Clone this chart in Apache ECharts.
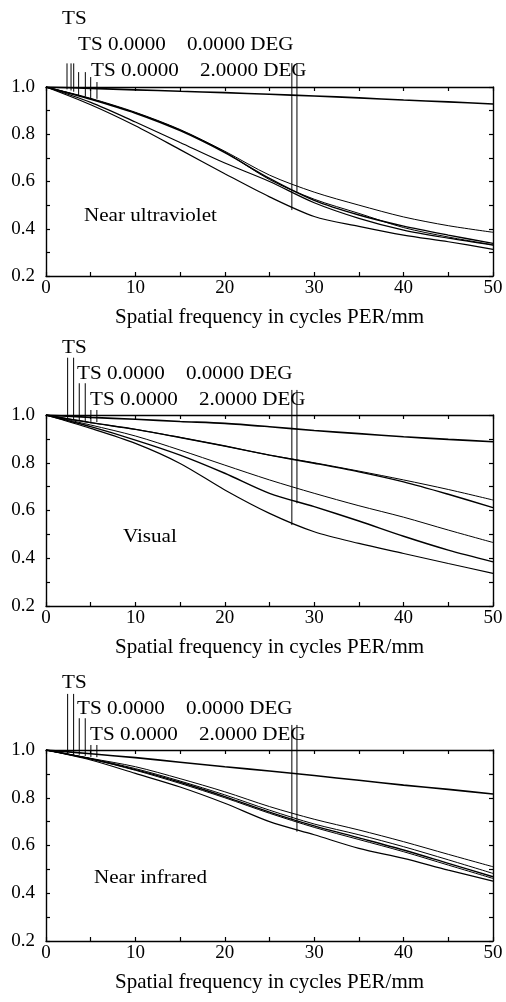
<!DOCTYPE html>
<html>
<head>
<meta charset="utf-8">
<script src="https://cdn.jsdelivr.net/npm/echarts@6/dist/echarts.min.js"></script>
<style>
  html, body { margin: 0; padding: 0; background: #fff; }
  #chart { width: 506px; height: 1002px; }
</style>
</head>
<body>
<div id="chart"></div>
<script>
// MTF curves, three wavebands.
const FREQ = [0, 5, 10, 15, 20, 25, 30, 35, 40, 45, 50];

// Near ultraviolet
const UV_DIFF = [1, 0.994, 0.988, 0.982, 0.976, 0.969, 0.962, 0.954, 0.945, 0.937, 0.928];
const UV_B    = [1, 0.952, 0.893, 0.820, 0.728, 0.627, 0.555, 0.500, 0.450, 0.413, 0.385];
const UV_C    = [1, 0.948, 0.889, 0.815, 0.722, 0.613, 0.520, 0.458, 0.411, 0.373, 0.338];
const UV_C2   = [1, 0.950, 0.891, 0.818, 0.725, 0.608, 0.525, 0.465, 0.405, 0.365, 0.332];
const UV_D    = [1, 0.935, 0.852, 0.765, 0.678, 0.600, 0.510, 0.444, 0.394, 0.360, 0.331];
const UV_E    = [1, 0.925, 0.836, 0.735, 0.633, 0.535, 0.452, 0.410, 0.373, 0.345, 0.313];

// Visual
const VIS_DIFF = [1, 0.990, 0.982, 0.973, 0.965, 0.951, 0.935, 0.922, 0.909, 0.898, 0.888];
const VIS_B    = [1, 0.968, 0.940, 0.906, 0.870, 0.832, 0.800, 0.765, 0.728, 0.688, 0.644];
const VIS_C    = [1, 0.968, 0.940, 0.906, 0.870, 0.832, 0.798, 0.762, 0.720, 0.668, 0.612];
const VIS_D    = [1, 0.958, 0.912, 0.853, 0.790, 0.728, 0.672, 0.620, 0.572, 0.518, 0.466];
const VIS_E    = [1, 0.951, 0.895, 0.832, 0.756, 0.672, 0.616, 0.556, 0.492, 0.434, 0.385];
const VIS_F    = [1, 0.944, 0.881, 0.797, 0.686, 0.588, 0.511, 0.462, 0.420, 0.378, 0.337];

// Near infrared
const NIR_DIFF = [1, 0.984, 0.968, 0.949, 0.930, 0.912, 0.893, 0.873, 0.853, 0.835, 0.816];
const NIR_B    = [1, 0.965, 0.930, 0.880, 0.825, 0.763, 0.710, 0.665, 0.616, 0.563, 0.511];
const NIR_C    = [1, 0.964, 0.922, 0.870, 0.812, 0.748, 0.690, 0.645, 0.595, 0.540, 0.483];
const NIR_D    = [1, 0.963, 0.918, 0.865, 0.805, 0.740, 0.682, 0.632, 0.581, 0.525, 0.469];
const NIR_E    = [1, 0.962, 0.915, 0.860, 0.800, 0.735, 0.676, 0.625, 0.574, 0.518, 0.462];
const NIR_F    = [1, 0.958, 0.902, 0.845, 0.777, 0.700, 0.645, 0.588, 0.546, 0.497, 0.451];

// Legend marker strokes (frequency, top value, bottom value)
const UV_MARK_X   = [2.35, 2.8, 3.1, 3.65, 4.4, 5.0, 5.7];
const UV_MARK_TOP = [1.10, 1.10, 1.10, 1.063, 1.063, 1.042, 1.021];
const UV_MARK_BOT = [0.99, 0.985, 0.98, 0.965, 0.96, 0.95, 0.95];
const VIS_MARK_X   = [2.42, 3.09, 3.72, 4.39, 5.02, 5.69];
const VIS_MARK_TOP = [1.24, 1.24, 1.133, 1.133, 1.021, 1.021];
const VIS_MARK_BOT = [0.985, 0.98, 0.975, 0.975, 0.965, 0.97];
const NIR_MARK_X   = [2.42, 3.09, 3.72, 4.39, 5.02, 5.69];
const NIR_MARK_TOP = [1.235, 1.235, 1.133, 1.133, 1.021, 1.021];
const NIR_MARK_BOT = [0.985, 0.98, 0.98, 0.975, 0.97, 0.97];

const FIELD_MARK_X = [27.5, 28.07];
const UV_FIELD_TOP = [1.101, 1.101];
const UV_FIELD_BOT = [0.479, 0.55];
const VIS_FIELD_TOP = [1.105, 1.105];
const VIS_FIELD_BOT = [0.539, 0.63];
const NIR_FIELD_TOP = [1.105, 1.105];
const NIR_FIELD_BOT = [0.707, 0.658];

const LEGEND_TEXT = ['TS', 'TS 0.0000    0.0000 DEG', 'TS 0.0000    2.0000 DEG'];
const BAND_NAMES = ['Near ultraviolet', 'Visual', 'Near infrared'];
const X_TITLE = 'Spatial frequency in cycles PER/mm';

const panels = [
    { curves: [[UV_DIFF, 1.6], [UV_B, 1], [UV_C, 1.4], [UV_C2, 1], [UV_D, 1.2], [UV_E, 1.2]],
      mark: [UV_MARK_X, UV_MARK_TOP, UV_MARK_BOT],
      field: [FIELD_MARK_X, UV_FIELD_TOP, UV_FIELD_BOT] },
    { curves: [[VIS_DIFF, 1.6], [VIS_B, 1], [VIS_C, 1.4], [VIS_D, 1], [VIS_E, 1.4], [VIS_F, 1.2]],
      mark: [VIS_MARK_X, VIS_MARK_TOP, VIS_MARK_BOT],
      field: [FIELD_MARK_X, VIS_FIELD_TOP, VIS_FIELD_BOT] },
    { curves: [[NIR_DIFF, 1.6], [NIR_B, 1], [NIR_C, 1], [NIR_D, 1.4], [NIR_E, 1], [NIR_F, 1.2]],
      mark: [NIR_MARK_X, NIR_MARK_TOP, NIR_MARK_BOT],
      field: [FIELD_MARK_X, NIR_FIELD_TOP, NIR_FIELD_BOT] }
];

// Layout (pixels)
const GRID_TOP = [87, 415, 750];
const GRID_H = [189, 191, 191];
const LEFT = 46, WIDTH = 447;
const FONT = 'Liberation Serif, Times New Roman, serif';
const INK = '#000';

const grids = [], xAxes = [], yAxes = [], series = [], graphics = [];

panels.forEach((p, i) => {
    grids.push({ left: LEFT, top: GRID_TOP[i], width: WIDTH, height: GRID_H[i] });

    const xBase = {
        gridIndex: i, type: 'value', min: 0, max: 50, interval: 5,
        axisLine: { show: true, onZero: false, lineStyle: { color: INK, width: 1.4 } },
        axisTick: { show: true, inside: true, length: 4, lineStyle: { color: INK, width: 1.2 } },
        splitLine: { show: false }
    };
    xAxes.push(Object.assign({}, xBase, {
        position: 'bottom',
        axisLabel: {
            margin: 3, fontFamily: FONT, fontSize: 19, color: INK,
            formatter: v => (Math.round(v) % 10 === 0 ? String(Math.round(v)) : '')
        },
        name: X_TITLE, nameLocation: 'middle', nameGap: 31,
        nameTextStyle: { fontFamily: FONT, fontSize: 21, color: INK }
    }));
    xAxes.push(Object.assign({}, xBase, { position: 'top', axisLabel: { show: false } }));

    const yBase = {
        gridIndex: i, type: 'value', min: 0.2, max: 1.0, interval: 0.1,
        axisLine: { show: true, onZero: false, lineStyle: { color: INK, width: 1.4 } },
        axisTick: { show: true, inside: true, length: 4, lineStyle: { color: INK, width: 1.2 } },
        splitLine: { show: false }
    };
    yAxes.push(Object.assign({}, yBase, {
        position: 'left',
        axisLabel: {
            margin: 11, fontFamily: FONT, fontSize: 19, color: INK,
            formatter: v => (Math.round(v * 10) % 2 === 0 ? v.toFixed(1) : '')
        }
    }));
    yAxes.push(Object.assign({}, yBase, { position: 'right', axisLabel: { show: false } }));

    const xi = i * 2, yi = i * 2;

    p.curves.forEach(([vals, w]) => {
        series.push({
            type: 'line', xAxisIndex: xi, yAxisIndex: yi,
            data: FREQ.map((f, k) => [f, vals[k]]),
            smooth: 0.3, showSymbol: false, silent: true,
            lineStyle: { color: INK, width: w }
        });
    });

    // vertical marker strokes, some of them reach above the plot box
    [p.mark, p.field].forEach(([xs, tops, bots]) => {
        xs.forEach((x, k) => {
            series.push({
                type: 'line', xAxisIndex: xi, yAxisIndex: yi, clip: false,
                data: [[x, tops[k]], [x, bots[k]]],
                showSymbol: false, silent: true,
                lineStyle: { color: INK, width: 1 }
            });
        });
    });
});

// Legend text rows and band names
const TEXT_ROWS = [
    [[62, 19], [78, 45], [91, 71]],
    [[62, 348], [77, 374], [90, 400]],
    [[62, 683], [77, 709], [90, 735]]
];
const BAND_POS = [[84, 216], [123, 537], [94, 878]];

function addText(str, x, y) {
    graphics.push({
        type: 'text', x: x, y: y, scaleX: 1.11, silent: true,
        style: { text: str, font: '19px ' + FONT, fill: INK,
                 align: 'left', verticalAlign: 'middle' }
    });
}

TEXT_ROWS.forEach((rows, i) => {
    rows.forEach(([x, y], k) => addText(LEGEND_TEXT[k], x, y));
    addText(BAND_NAMES[i], BAND_POS[i][0], BAND_POS[i][1]);
});

const chart = echarts.init(document.getElementById('chart'), null, { renderer: 'canvas' });
chart.setOption({
    animation: false,
    backgroundColor: '#fff',
    grid: grids,
    xAxis: xAxes,
    yAxis: yAxes,
    series: series,
    graphic: graphics
});
</script>
</body>
</html>
